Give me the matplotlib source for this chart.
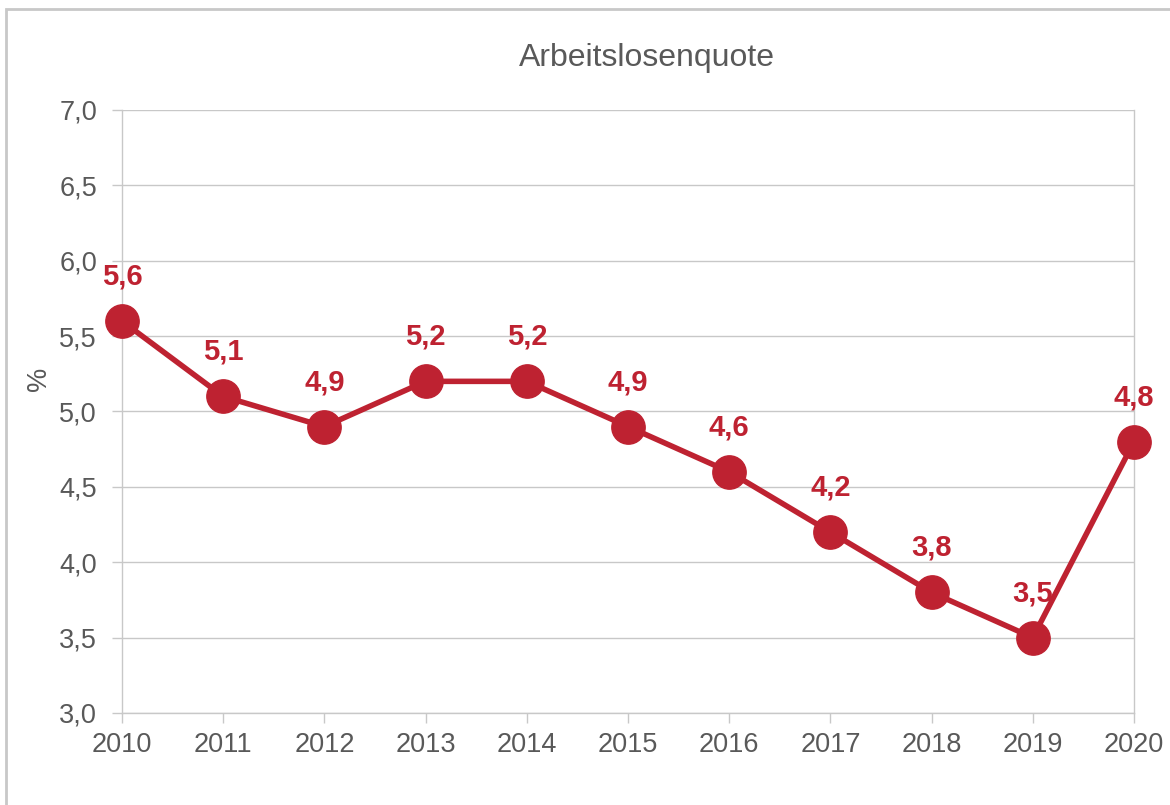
import matplotlib
matplotlib.use("Agg")
import matplotlib.pyplot as plt
from matplotlib.patches import Rectangle

years = [2010, 2011, 2012, 2013, 2014, 2015, 2016, 2017, 2018, 2019, 2020]
quote = [5.6, 5.1, 4.9, 5.2, 5.2, 4.9, 4.6, 4.2, 3.8, 3.5, 4.8]
yticks = [3.0, 3.5, 4.0, 4.5, 5.0, 5.5, 6.0, 6.5, 7.0]

plt.rcParams['font.family'] = ['Liberation Sans', 'DejaVu Sans']
red = '#BE2231'
grey_txt = '#595959'
grid_c = '#C8C8C8'

fig = plt.figure(figsize=(11.7, 8.05), dpi=100)
ax = fig.add_axes([122/1170, 1-713/805, (1134-122)/1170, (713-110)/805])

ax.plot(years, quote, color=red, lw=4.0, marker='o', markersize=24, zorder=3, clip_on=False)
for x, y in zip(years, quote):
    ax.annotate(f"{y:.1f}".replace('.', ','), (x, y), xytext=(0, 22), textcoords='offset points',
                ha='center', va='bottom', fontsize=21, fontweight='bold', color=red, zorder=4,
                annotation_clip=False)

ax.set_xlim(2010, 2020)
ax.set_ylim(3.0, 7.0)
ax.set_xticks(years)
ax.set_xticklabels([str(y) for y in years])
ax.set_yticks(yticks)
ax.set_yticklabels([f"{t:.1f}".replace('.', ',') for t in yticks])
ax.grid(axis='y', color=grid_c, lw=1.0, zorder=0)
ax.set_axisbelow(True)
for s in ['left', 'right', 'bottom']:
    ax.spines[s].set_color(grid_c)
    ax.spines[s].set_linewidth(1.0)
ax.spines['top'].set_visible(False)
ax.tick_params(axis='both', colors=grid_c, labelcolor=grey_txt, labelsize=19.5, length=7, width=1.0)
ax.tick_params(axis='x', pad=7)
ax.tick_params(axis='y', pad=11)

ax.set_ylabel('%', fontsize=19.5, color=grey_txt)
ax.yaxis.set_label_coords((52-122)/1012, (713-379)/603)
fig.text(647/1170, 1-58/805, 'Arbeitslosenquote', ha='center', va='center', fontsize=23, color=grey_txt)

fig.patches.append(Rectangle((6/1170, -0.1), 1.2, 1-9/805+0.1, transform=fig.transFigure,
                             fill=False, edgecolor='#C8C8C8', lw=2.0))

fig.savefig('out.png', dpi=100)
